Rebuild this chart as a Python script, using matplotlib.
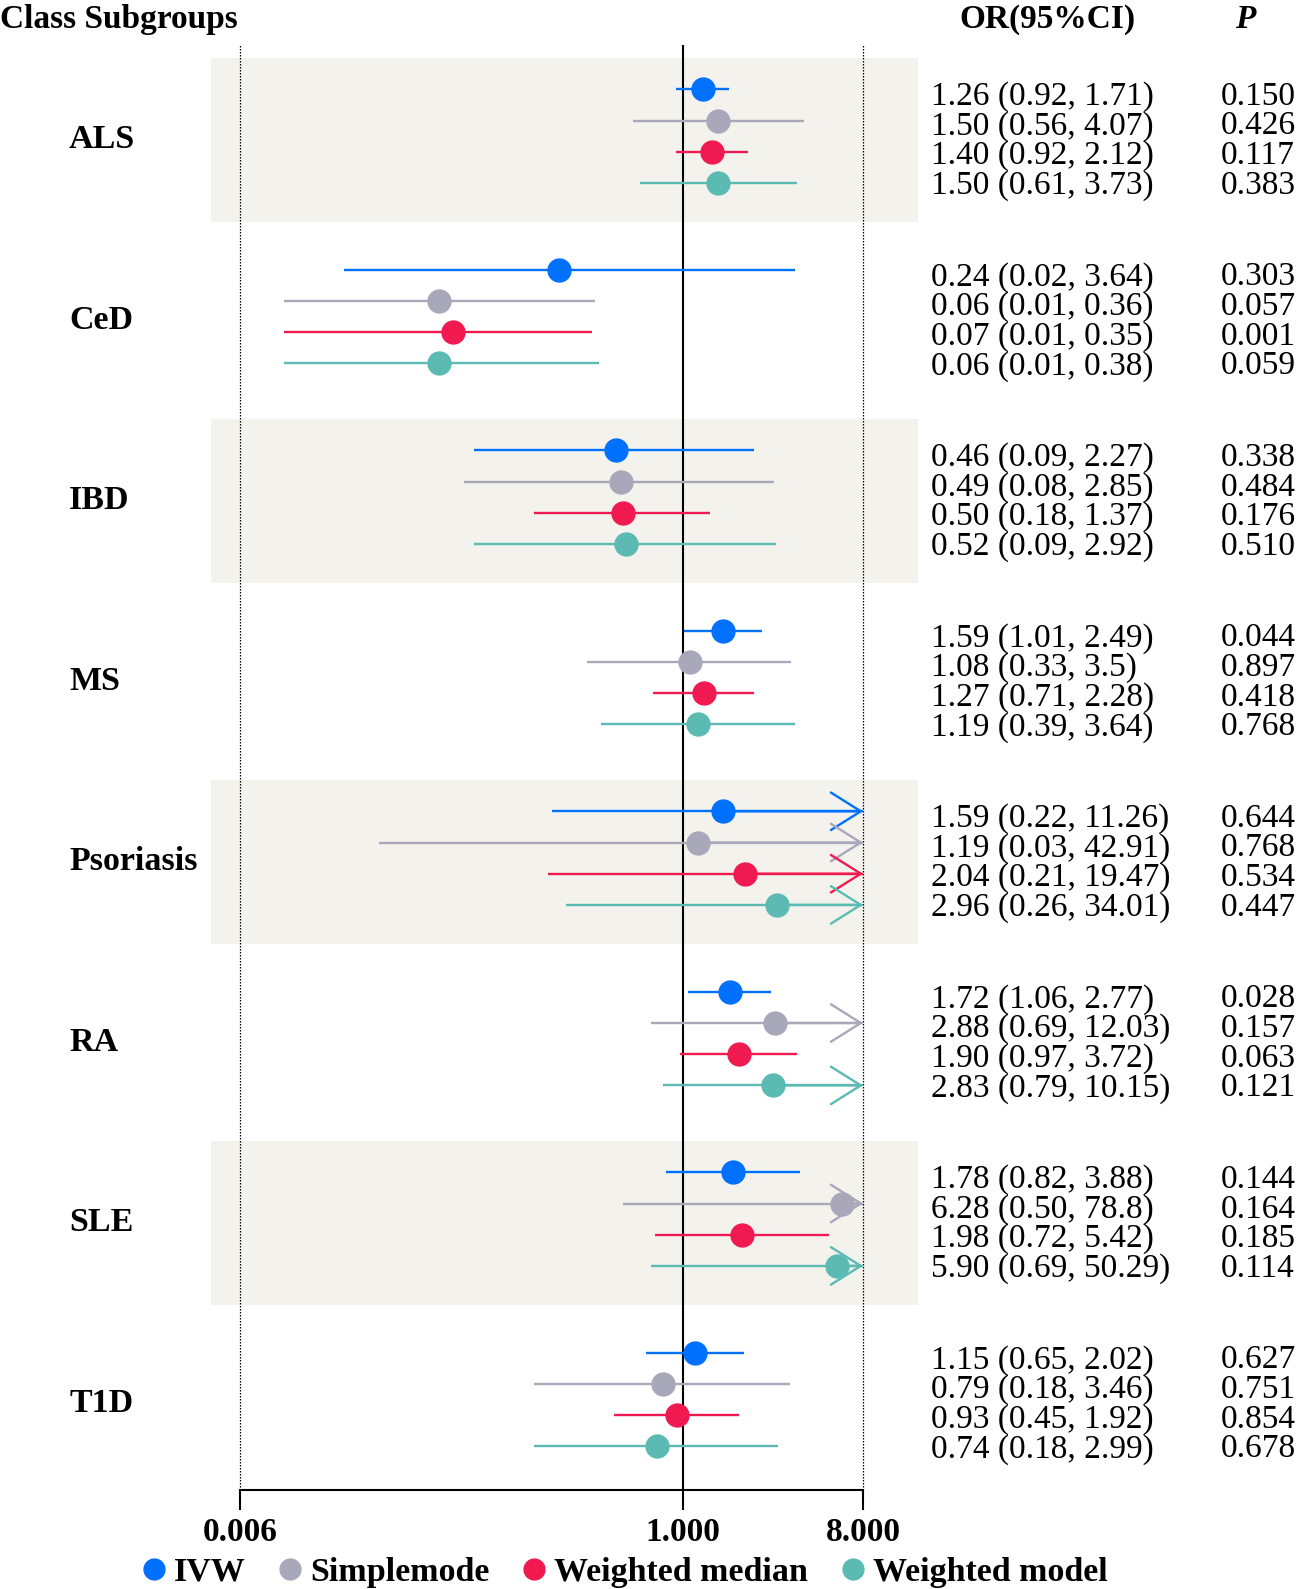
import matplotlib.pyplot as plt
from matplotlib.lines import Line2D
from matplotlib.ticker import NullLocator

plt.rcParams['font.family'] = ['Liberation Serif', 'DejaVu Serif']

# ---------------- data ----------------
groups = ['ALS', 'CeD', 'IBD', 'MS', 'Psoriasis', 'RA', 'SLE', 'T1D']
methods = ['IVW', 'Simplemode', 'Weighted median', 'Weighted model']
colors = ['#0070ff', '#a8a8ba', '#f01a50', '#5bbab2']

# rows inside each group follow the order of `methods`
or_vals = [[1.26, 1.50, 1.40, 1.50],
           [0.24, 0.06, 0.07, 0.06],
           [0.46, 0.49, 0.50, 0.52],
           [1.59, 1.08, 1.27, 1.19],
           [1.59, 1.19, 2.04, 2.96],
           [1.72, 2.88, 1.90, 2.83],
           [1.78, 6.28, 1.98, 5.90],
           [1.15, 0.79, 0.93, 0.74]]
ci_low = [[0.92, 0.56, 0.92, 0.61],
          [0.02, 0.01, 0.01, 0.01],
          [0.09, 0.08, 0.18, 0.09],
          [1.01, 0.33, 0.71, 0.39],
          [0.22, 0.03, 0.21, 0.26],
          [1.06, 0.69, 0.97, 0.79],
          [0.82, 0.50, 0.72, 0.69],
          [0.65, 0.18, 0.45, 0.18]]
ci_high = [[1.71, 4.07, 2.12, 3.73],
           [3.64, 0.36, 0.35, 0.38],
           [2.27, 2.85, 1.37, 2.92],
           [2.49, 3.5, 2.28, 3.64],
           [11.26, 42.91, 19.47, 34.01],
           [2.77, 12.03, 3.72, 10.15],
           [3.88, 78.8, 5.42, 50.29],
           [2.02, 3.46, 1.92, 2.99]]
or_labels = [['1.26 (0.92, 1.71)', '1.50 (0.56, 4.07)', '1.40 (0.92, 2.12)', '1.50 (0.61, 3.73)'],
             ['0.24 (0.02, 3.64)', '0.06 (0.01, 0.36)', '0.07 (0.01, 0.35)', '0.06 (0.01, 0.38)'],
             ['0.46 (0.09, 2.27)', '0.49 (0.08, 2.85)', '0.50 (0.18, 1.37)', '0.52 (0.09, 2.92)'],
             ['1.59 (1.01, 2.49)', '1.08 (0.33, 3.5)', '1.27 (0.71, 2.28)', '1.19 (0.39, 3.64)'],
             ['1.59 (0.22, 11.26)', '1.19 (0.03, 42.91)', '2.04 (0.21, 19.47)', '2.96 (0.26, 34.01)'],
             ['1.72 (1.06, 2.77)', '2.88 (0.69, 12.03)', '1.90 (0.97, 3.72)', '2.83 (0.79, 10.15)'],
             ['1.78 (0.82, 3.88)', '6.28 (0.50, 78.8)', '1.98 (0.72, 5.42)', '5.90 (0.69, 50.29)'],
             ['1.15 (0.65, 2.02)', '0.79 (0.18, 3.46)', '0.93 (0.45, 1.92)', '0.74 (0.18, 2.99)']]
p_vals = [[0.150, 0.426, 0.117, 0.383],
          [0.303, 0.057, 0.001, 0.059],
          [0.338, 0.484, 0.176, 0.510],
          [0.044, 0.897, 0.418, 0.768],
          [0.644, 0.768, 0.534, 0.447],
          [0.028, 0.157, 0.063, 0.121],
          [0.144, 0.164, 0.185, 0.114],
          [0.627, 0.751, 0.854, 0.678]]

x_ticks = [0.006, 1, 8]
x_ticklabels = ['0.006', '1.000', '8.000']
x_min, x_max = 0.006, 8

# ---------------- layout (pixels from top-left) ----------------
W, H = 1299, 1589
first_row = 89.3
row_gap = 31.2
text_gap = 29.7
group_gap = 180.5

fig = plt.figure(figsize=(W / 100, H / 100), dpi=100)
ax = fig.add_axes([211 / W, 1 - 1490 / H, (918 - 211) / W, (1490 - 45) / H])
ax.set_xscale('log')
ax.set_xlim(0.004292, 15.1)
ax.set_ylim(1490, 45)
ax.patch.set_alpha(0)


def fig_y(y):
    return 1 - y / H


for g, name in enumerate(groups):
    y0 = first_row + g * group_gap
    mid = y0 + 1.5 * row_gap
    if g % 2 == 0:
        ax.axhspan(y0 - 31, y0 + 3 * row_gap + 39, color='#f3f2ed', lw=0, zorder=0)
    fig.text(69 / W, fig_y(mid), name, fontsize=24.5, fontweight='bold',
             ha='left', va='center_baseline')
    for k in range(len(methods)):
        y = y0 + k * row_gap
        c = colors[k]
        hi = min(ci_high[g][k], x_max)
        ax.hlines(y, ci_low[g][k], hi, color=c, lw=1.7, zorder=2)
        if ci_high[g][k] > x_max:
            ax.annotate('', xy=(x_max, y), xytext=(or_vals[g][k], y),
                        arrowprops=dict(arrowstyle='->,head_length=2.15,head_width=1.35',
                                        color=c, lw=1.7, shrinkA=0, shrinkB=0,
                                        mutation_scale=10), zorder=4)
        ax.plot(or_vals[g][k], y, 'o', color=c, ms=16.5, mec=c, zorder=3)
        ty = mid + (k - 1.5) * text_gap + 1.5
        fig.text(931 / W, fig_y(ty), or_labels[g][k], fontsize=24,
                 ha='left', va='center_baseline')
        fig.text(1221 / W, fig_y(ty), f'{p_vals[g][k]:.3f}', fontsize=24,
                 ha='left', va='center_baseline')

# reference lines
ax.axvline(1, color='black', lw=1.5, zorder=1)
for xv in (x_min, x_max):
    ax.axvline(xv, color='black', lw=0.9, ls=(0, (1.2, 1.2)), zorder=1)

# bottom axis
for side in ('top', 'left', 'right'):
    ax.spines[side].set_visible(False)
ax.spines['bottom'].set_bounds(x_min, x_max)
ax.spines['bottom'].set_linewidth(1.5)
ax.set_yticks([])
ax.set_xticks(x_ticks)
ax.set_xticklabels(x_ticklabels, fontweight='bold')
ax.xaxis.set_minor_locator(NullLocator())
ax.tick_params(axis='x', direction='out', length=14.5, width=1.5, pad=5, labelsize=24)

# headers
fig.text(0, fig_y(16), 'Class Subgroups', fontsize=24, fontweight='bold',
         ha='left', va='center_baseline')
fig.text(1047 / W, fig_y(16), 'OR(95%CI)', fontsize=24, fontweight='bold',
         ha='center', va='center_baseline')
fig.text(1245 / W, fig_y(16), 'P', fontsize=24, fontweight='bold', fontstyle='italic',
         ha='center', va='center_baseline')

# legend
handles = [Line2D([], [], marker='o', ls='none', color=c, ms=15) for c in colors]
fig.legend(handles, methods, loc='center', bbox_to_anchor=(623 / W, fig_y(1572)),
           ncol=4, frameon=False, prop=dict(weight='bold', size=24.5),
           handletextpad=0.15, columnspacing=0.85, handlelength=0.9, borderaxespad=0)

fig.savefig('out.png', dpi=100)
